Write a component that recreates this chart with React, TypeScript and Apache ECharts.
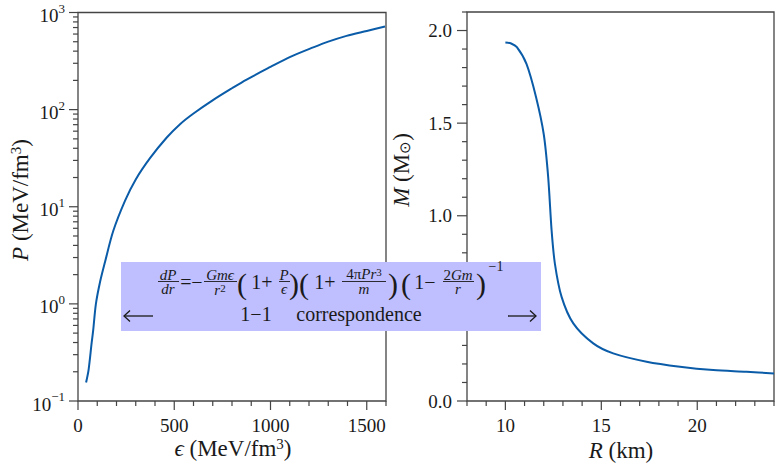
import React, { useEffect, useRef } from "react";
import * as echarts from "echarts";

// ---- Data ----
const epsilon = [42, 55, 71, 79, 93, 115, 140, 183, 244, 300, 374, 460, 530, 600, 703, 800, 876, 1000, 1100, 1222, 1300, 1395, 1500, 1595];
const pressure = [0.155, 0.209, 0.398, 0.537, 1.0, 1.70, 2.69, 5.62, 11.5, 19.1, 31.6, 51.3, 70.8, 91.2, 126, 166, 204, 275, 347, 437, 501, 575, 646, 718];

const radius = [10.0, 10.3, 10.6, 11.1, 11.6, 12.0, 12.23, 12.41, 12.58, 12.93, 13.54, 14.58, 15.62, 17.36, 19.1, 20.83, 22.57, 24.0];
const mass = [1.935, 1.93, 1.91, 1.82, 1.64, 1.44, 1.21, 0.92, 0.742, 0.562, 0.419, 0.311, 0.257, 0.212, 0.185, 0.167, 0.158, 0.149];

// ---- Ticks ----
const epsMajorTicks = [0, 500, 1000, 1500];
const epsMinorTicks = [100, 200, 300, 400, 600, 700, 800, 900, 1100, 1200, 1300, 1400, 1600];
const pMajorTicks = [0.1, 1, 10, 100, 1000];
const pMinorTicks = [0.2, 0.3, 0.4, 0.5, 0.6, 0.7, 0.8, 0.9, 2, 3, 4, 5, 6, 7, 8, 9, 20, 30, 40, 50, 60, 70, 80, 90, 200, 300, 400, 500, 600, 700, 800, 900];
const rMajorTicks = [10, 15, 20];
const rMinorTicks = [8, 9, 11, 12, 13, 14, 16, 17, 18, 19, 21, 22, 23, 24];
const mMajorTicks = [0, 0.5, 1.0, 1.5, 2.0];
const mMinorTicks = [0.1, 0.2, 0.3, 0.4, 0.6, 0.7, 0.8, 0.9, 1.1, 1.2, 1.3, 1.4, 1.6, 1.7, 1.8, 1.9, 2.1];

const FONT = "Liberation Serif";
const INK = "#1a1a1a";
const FRAME = "#444";
const LINE = "#0b5ca8";

function tickSeries(xi: number, yi: number, dir: "x" | "y", values: number[], anchor: number, len: number) {
  return {
    type: "custom",
    xAxisIndex: xi,
    yAxisIndex: yi,
    clip: false,
    silent: true,
    z: 5,
    data: values.map((v) => (dir === "x" ? [v, anchor] : [anchor, v])),
    renderItem: (_p: any, api: any) => {
      const p = api.coord([api.value(0), api.value(1)]);
      const shape =
        dir === "x"
          ? { x1: p[0], y1: p[1], x2: p[0], y2: p[1] + len }
          : { x1: p[0] - len, y1: p[1], x2: p[0], y2: p[1] };
      return { type: "line", shape, style: { stroke: FRAME, lineWidth: 1.2 } };
    },
  };
}

function txt(text: string, x: number, y: number, size: number, italic = false, rich?: any, rotation = 0, family = FONT) {
  const style: any = {
    text,
    font: `${italic ? "italic" : "normal"} normal ${size}px ${family}`,
    fontSize: size,
    fontFamily: family,
    fontStyle: italic ? "italic" : "normal",
    fill: INK,
    align: "center",
    verticalAlign: "middle",
  };
  if (rich) style.rich = rich;
  return { type: "text", x, y, rotation, z: 101, silent: true, style };
}

function bar(x1: number, x2: number, y: number) {
  return { type: "line", z: 101, silent: true, shape: { x1, y1: y, x2, y2: y }, style: { stroke: INK, lineWidth: 0.9 } };
}

function arrow(xTail: number, xHead: number, y: number) {
  const d = xHead > xTail ? -1 : 1;
  return [
    { type: "line", z: 101, silent: true, shape: { x1: xTail, y1: y, x2: xHead, y2: y }, style: { stroke: INK, lineWidth: 1.3 } },
    {
      type: "polyline", z: 101, silent: true,
      shape: { points: [[xHead + d * 6, y - 5.5], [xHead, y], [xHead + d * 6, y + 5.5]] },
      style: { stroke: INK, lineWidth: 1.3, fill: "none" },
    },
  ];
}

const supRich = (base: number, sup: number) => ({
  i: { fontSize: base, fontFamily: FONT, fontStyle: "italic", fill: INK },
  n: { fontSize: base, fontFamily: FONT, fill: INK },
  s: { fontSize: sup, fontFamily: FONT, fill: INK, verticalAlign: "top", lineHeight: sup },
  d: { fontSize: sup, fontFamily: FONT, fill: INK, verticalAlign: "bottom", lineHeight: sup },
});

export default function App() {
  const ref = useRef<HTMLDivElement>(null);
  useEffect(() => {
    if (!ref.current) return;
    const chart = echarts.init(ref.current, undefined, { renderer: "svg" });

    const labelStyle = { fontSize: 19, fontFamily: FONT, color: INK };
    const rEps = supRich(23, 15);
    const rSmall = supRich(15, 11);

    const graphic: any[] = [
      // annotation box
      { type: "rect", z: 100, silent: true, shape: { x: 121, y: 262, width: 420, height: 69 }, style: { fill: "#bfbfff" } },
      // dP/dr
      txt("dP", 168, 274.5, 15, true),
      bar(158, 179, 281.5),
      txt("dr", 168, 289, 15, true),
      txt("=", 186, 282, 20),
      txt("−", 197, 282, 20),
      // Gm eps / r^2
      txt("Gmϵ", 220, 274.5, 15, true),
      bar(204, 237, 281.5),
      txt("{i|r}{s|2}", 220, 290, 15, false, rSmall),
      txt("(", 242, 283, 30),
      txt("1+", 262, 282, 20),
      txt("P", 284, 274.5, 15, true),
      bar(279, 290, 281.5),
      txt("ϵ", 284, 289, 15, true),
      txt(")", 294, 283, 30),
      txt("(", 304, 283, 30),
      txt("1+", 325, 282, 20),
      txt("{n|4π}{i|Pr}{s|3}", 364, 274, 15, false, rSmall),
      bar(342, 386, 281.5),
      txt("m", 364, 289, 15, true),
      txt(")", 393, 283, 30),
      txt("(", 406, 283, 30),
      txt("1−", 425, 282, 20),
      txt("{n|2}{i|Gm}", 458, 274.5, 15, false, rSmall),
      bar(443, 474, 281.5),
      txt("r", 458, 289, 15, true),
      txt(")", 481, 283, 30),
      txt("−1", 496, 266, 14),
      // second row
      ...arrow(153, 124, 316),
      txt("1−1", 256, 314, 20),
      txt("correspondence", 359, 314, 20),
      ...arrow(508, 536, 316),
      // axis titles
      txt("{i|ϵ}{n| (MeV/fm}{s|3}{n|)}", 233, 448, 23, false, rEps),
      txt("{i|P}{n| (MeV/fm}{s|3}{n|)}", 20, 200, 23, false, rEps, Math.PI / 2),
      txt("{i|R}{n| (km)}", 621, 450, 23, false, rEps),
      txt("{i|M}{n| (M}{d|⊙}{n|)}", 401, 170, 23, false, rEps, Math.PI / 2),
    ];

    const option: any = {
      animation: false,
      backgroundColor: "#ffffff",
      textStyle: { fontFamily: FONT },
      grid: [
        { left: 78, top: 12, width: 308, height: 389, show: true, borderColor: FRAME, borderWidth: 1.3, backgroundColor: "transparent" },
        { left: 467, top: 12, width: 307, height: 389, show: true, borderColor: FRAME, borderWidth: 1.3, backgroundColor: "transparent" },
      ],
      xAxis: [
        {
          gridIndex: 0, type: "value", min: 0, max: 1600, interval: 500,
          axisLine: { show: false }, axisTick: { show: false }, splitLine: { show: false },
          axisLabel: { ...labelStyle, margin: 15, showMaxLabel: false, formatter: (v: number) => String(v) },
        },
        {
          gridIndex: 1, type: "value", min: 8, max: 24, interval: 1,
          axisLine: { show: false }, axisTick: { show: false }, splitLine: { show: false },
          axisLabel: { ...labelStyle, margin: 15, formatter: (v: number) => (v % 5 === 0 ? String(v) : "") },
        },
      ],
      yAxis: [
        {
          gridIndex: 0, type: "log", logBase: 10, min: 0.1, max: 1000,
          axisLine: { show: false }, axisTick: { show: false }, splitLine: { show: false },
          axisLabel: {
            ...labelStyle, margin: 13,
            formatter: (v: number) => {
              const e = Math.round(Math.log10(v));
              return `{b|10}{s|${e < 0 ? "−" : ""}${Math.abs(e)}}`;
            },
            rich: {
              b: { fontSize: 19, fontFamily: FONT, color: INK, lineHeight: 22, padding: [6, 0, 0, 0] },
              s: { fontSize: 13, fontFamily: FONT, color: INK, verticalAlign: "top", lineHeight: 13 },
            },
          },
        },
        {
          gridIndex: 1, type: "value", min: 0, max: 2.1, interval: 0.5,
          axisLine: { show: false }, axisTick: { show: false }, splitLine: { show: false },
          axisLabel: { ...labelStyle, margin: 15, showMaxLabel: false, formatter: (v: number) => v.toFixed(1) },
        },
      ],
      series: [
        {
          type: "line", xAxisIndex: 0, yAxisIndex: 0, showSymbol: false, smooth: 0.3,
          lineStyle: { color: LINE, width: 2 }, itemStyle: { color: LINE }, z: 3,
          data: epsilon.map((e, i) => [e, pressure[i]]),
        },
        {
          type: "line", xAxisIndex: 1, yAxisIndex: 1, showSymbol: false, smooth: 0.3,
          lineStyle: { color: LINE, width: 2 }, itemStyle: { color: LINE }, z: 3,
          data: radius.map((r, i) => [r, mass[i]]),
        },
        tickSeries(0, 0, "x", epsMajorTicks, 0.1, 9),
        tickSeries(0, 0, "x", epsMinorTicks, 0.1, 5),
        tickSeries(0, 0, "y", pMajorTicks, 0, 9),
        tickSeries(0, 0, "y", pMinorTicks, 0, 5),
        tickSeries(1, 1, "x", rMajorTicks, 0, 9),
        tickSeries(1, 1, "x", rMinorTicks, 0, 5),
        tickSeries(1, 1, "y", mMajorTicks, 8, 10),
        tickSeries(1, 1, "y", mMinorTicks, 8, 5),
      ],
      graphic,
    };
    chart.setOption(option);
    return () => chart.dispose();
  }, []);

  return <div ref={ref} style={{ position: "absolute", left: 0, top: 0, width: 777, height: 468 }} />;
}
